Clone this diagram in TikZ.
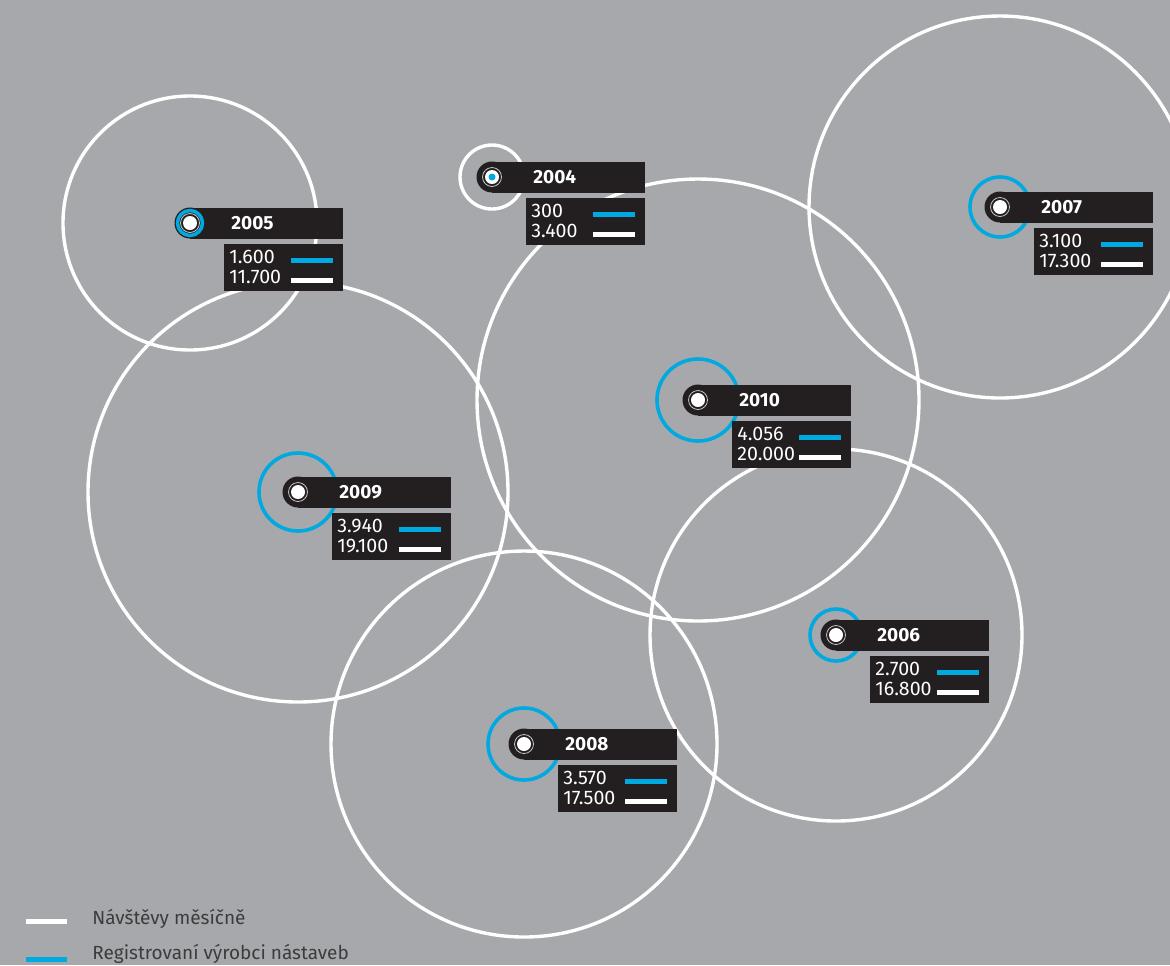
\documentclass[tikz,border=0pt]{standalone}
\usepackage{fontspec}
\setmainfont{Fira Sans}
\usetikzlibrary{positioning}
\definecolor{bggray}{HTML}{A7A8AB}
\definecolor{regblue}{HTML}{00A9E0}
\definecolor{labdark}{HTML}{231F20}
\definecolor{legtextc}{HTML}{3C3C3E}
\newcommand{\regbar}{\textcolor{regblue}{\rule[0.5pt]{21pt}{2.5pt}}}
\newcommand{\visbar}{\rule[0.5pt]{21pt}{2.5pt}}
\newcommand{\numrow}[2]{\makebox[31pt][l]{#1}#2}
\begin{document}
\begin{tikzpicture}[x=0.5pt, y=-0.5pt,
	visits/.style = {draw=white, line width=1.7pt},
	reg/.style = {draw=regblue, line width=1.8pt},
	year/.style = {fill=labdark, text=white, font=\bfseries\fontsize{9.5}{10}\selectfont, minimum width=76.5pt, minimum height=15.5pt, inner xsep=20.5pt, inner ysep=0pt, text width=35.5pt, align=left, anchor=west},
	nums/.style = {fill=labdark, text=white, font=\fontsize{9.8}{10}\selectfont, minimum height=23.5pt, inner xsep=2.5pt, inner ysep=0pt, text width=54.5pt, align=left},
	dot/.style = {fill=white},
	legbar/.style = {minimum width=20.5pt, minimum height=2.5pt, inner sep=0pt},
	legtext/.style = {text=legtextc, font=\fontsize{9.5}{11}\selectfont, anchor=base west, inner sep=0pt}]
	\fill[bggray] (0,0) rectangle (1170,965);
	\clip (0,0) rectangle (1170,965);
	% centres
	\coordinate (c04) at (492,177);
	\coordinate (c05) at (190,223);
	\coordinate (c06) at (836,635);
	\coordinate (c07) at (1000,207);
	\coordinate (c08) at (524,744);
	\coordinate (c09) at (298,492);
	\coordinate (c10) at (698,400);
	% visits
	\draw[visits] (c04) circle (32);
	\draw[visits] (c05) circle (127);
	\draw[visits] (c06) circle (186);
	\draw[visits] (c07) circle (191);
	\draw[visits] (c08) circle (193);
	\draw[visits] (c09) circle (210);
	\draw[visits] (c10) circle (221);
	% registrations
	\draw[reg] (c06) circle (26);
	\draw[reg] (c07) circle (30);
	\draw[reg] (c08) circle (36);
	\draw[reg] (c09) circle (39);
	\draw[reg] (c10) circle (41);
	% labels
	\fill[labdark] (c04) circle (15.5);
	\node[year] (y04) at (c04) {2004};
	\node[nums, below left=2.25pt and 0pt of y04.south east] (n04) {\numrow{300}{\regbar}\\ \numrow{3.400}{\visbar}};
	\fill[labdark] (c05) circle (15.5);
	\node[year] (y05) at (c05) {2005};
	\node[nums, below left=2.25pt and 0pt of y05.south east] (n05) {\numrow{1.600}{\regbar}\\ \numrow{11.700}{\visbar}};
	\fill[labdark] (c06) circle (15.5);
	\node[year] (y06) at (c06) {2006};
	\node[nums, below left=2.25pt and 0pt of y06.south east] (n06) {\numrow{2.700}{\regbar}\\ \numrow{16.800}{\visbar}};
	\fill[labdark] (c07) circle (15.5);
	\node[year] (y07) at (c07) {2007};
	\node[nums, below left=2.25pt and 0pt of y07.south east] (n07) {\numrow{3.100}{\regbar}\\ \numrow{17.300}{\visbar}};
	\fill[labdark] (c08) circle (15.5);
	\node[year] (y08) at (c08) {2008};
	\node[nums, below left=2.25pt and 0pt of y08.south east] (n08) {\numrow{3.570}{\regbar}\\ \numrow{17.500}{\visbar}};
	\fill[labdark] (c09) circle (15.5);
	\node[year] (y09) at (c09) {2009};
	\node[nums, below left=2.25pt and 0pt of y09.south east] (n09) {\numrow{3.940}{\regbar}\\ \numrow{19.100}{\visbar}};
	\fill[labdark] (c10) circle (15.5);
	\node[year] (y10) at (c10) {2010};
	\node[nums, below left=2.25pt and 0pt of y10.south east] (n10) {\numrow{4.056}{\regbar}\\ \numrow{20.000}{\visbar}};
	% dots
	\draw[regblue, line width=1.75pt] (c05) circle (12.5);
	\foreach \c in {c04,c05,c06,c07,c08,c09,c10}{
		\fill[dot] (\c) circle (7);
		\draw[white!75!labdark, line width=0.4pt] (\c) circle (9.5);
	}
	\fill[regblue] (c04) circle (3.5);
	% legend
	\node[legbar, fill=white] (visleg) at (46,921) {};
	\node[legtext] (vistext) at (92,924) {Návštěvy měsíčně};
	\node[legbar, fill=regblue] (regleg) at (46,959) {};
	\node[legtext] (regtext) at (92,959) {Registrovaní výrobci nástaveb};
\end{tikzpicture}
\end{document}
